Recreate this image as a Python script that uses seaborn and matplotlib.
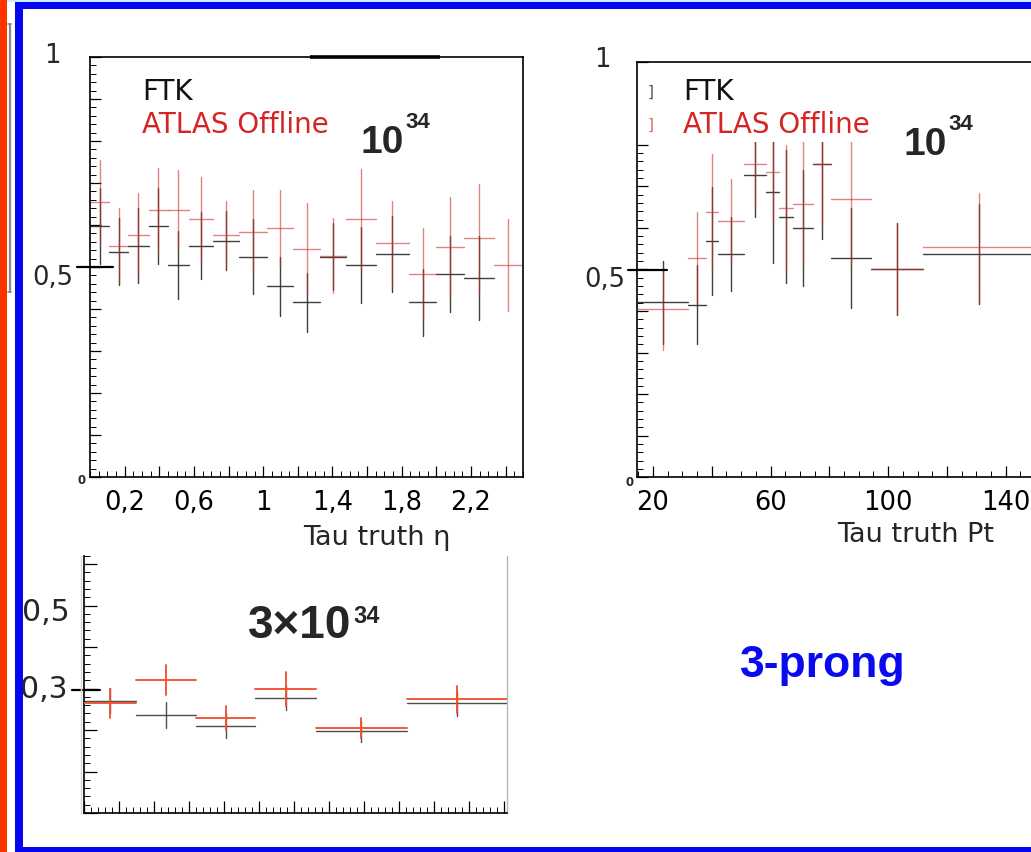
import numpy as np
import pandas as pd
import matplotlib
matplotlib.use("Agg")
import matplotlib.pyplot as plt
import seaborn as sns
from matplotlib.patches import Rectangle
from matplotlib.lines import Line2D
from matplotlib.ticker import FixedLocator, MultipleLocator, FixedFormatter, NullFormatter

# ---------------- data ----------------
# Panel 1: efficiency vs tau truth eta (10^34)
eta_edges = [0, 0.11, 0.22, 0.34, 0.45, 0.57, 0.71, 0.86, 1.02, 1.17, 1.33,
             1.48, 1.65, 1.84, 2.0, 2.16, 2.33, 2.5]
eta_offline = [0.655, 0.551, 0.577, 0.636, 0.636, 0.614, 0.577, 0.583, 0.593,
               0.543, 0.527, 0.614, 0.556, 0.483, 0.547, 0.568, 0.505]
eta_offline_err = [0.10, 0.09, 0.10, 0.10, 0.095, 0.10, 0.08, 0.10, 0.09,
                   0.11, 0.09, 0.12, 0.10, 0.11, 0.12, 0.13, 0.11]
eta_ftk = [0.597, 0.536, 0.551, 0.598, 0.505, 0.551, 0.563, 0.525, 0.454,
           0.416, 0.525, 0.505, 0.531, 0.416, 0.483, 0.474, np.nan]
eta_ftk_err = [0.09, 0.08, 0.09, 0.09, 0.08, 0.08, 0.07, 0.09, 0.07,
               0.07, 0.08, 0.09, 0.09, 0.08, 0.09, 0.10, np.nan]

# Panel 2: efficiency vs tau truth Pt (10^34)
pt_edges = [15, 32, 38, 42, 51, 58.5, 63, 67.5, 74.5, 80.5, 94, 112, 150]
pt_offline = [0.405, 0.527, 0.638, 0.617, 0.754, 0.734, 0.648, 0.658, 0.754,
              0.669, 0.501, 0.553]
pt_offline_err = [0.10, 0.11, 0.14, 0.10, 0.10, 0.12, 0.15, 0.15, 0.15,
                  0.16, 0.11, 0.13]
pt_ftk = [0.421, 0.415, 0.568, 0.537, 0.727, 0.686, 0.627, 0.600, 0.754,
          0.527, 0.501, 0.537]
pt_ftk_err = [0.10, 0.095, 0.13, 0.09, 0.10, 0.17, 0.16, 0.14, 0.18,
              0.12, 0.11, 0.12]

# Panel 3: 3x10^34
hi_edges = [0, 15, 32, 49, 66.3, 92.4, 121]
hi_offline = [0.264, 0.321, 0.229, 0.299, 0.205, 0.274]
hi_offline_err = [0.035, 0.036, 0.030, 0.040, 0.025, 0.033]
hi_ftk = [0.271, 0.236, 0.210, 0.277, 0.197, 0.264]
hi_ftk_err = [0.030, 0.031, 0.030, 0.030, 0.025, 0.030]

eta_ticks = [0.2, 0.4, 0.6, 0.8, 1.0, 1.2, 1.4, 1.6, 1.8, 2.0, 2.2, 2.4]
eta_labels = ["0,2", "", "0,6", "", "1", "", "1,4", "", "1,8", "", "2,2", ""]
pt_ticks = [20, 40, 60, 80, 100, 120, 140, 160]
pt_labels = ["20", "", "60", "", "100", "", "140", ""]

# ---------------- helpers ----------------
W, H = 1031, 853


def rect(l, t, r, b):
    return [l / W, 1 - b / H, (r - l) / W, (b - t) / H]


def cross_df(edges, vals, errs):
    rows = []
    for i, (v, e) in enumerate(zip(vals, errs)):
        if np.isnan(v):
            continue
        lo, hi = edges[i], edges[i + 1]
        c = 0.5 * (lo + hi)
        rows += [(lo, v, 2 * i), (hi, v, 2 * i),
                 (c, v - e, 2 * i + 1), (c, v + e, 2 * i + 1)]
    return pd.DataFrame(rows, columns=["x", "y", "seg"])


def draw_crosses(ax, edges, vals, errs, color, lw, alpha=1.0, z=2):
    df = cross_df(edges, vals, errs)
    sns.lineplot(data=df, x="x", y="y", units="seg", estimator=None, sort=False,
                 color=color, lw=lw, alpha=alpha, ax=ax, legend=False, zorder=z)
    ax.set_xlabel("")
    ax.set_ylabel("")


sns.set_style("white")
plt.rcParams["font.family"] = ["DejaVu Sans"]

fig = plt.figure(figsize=(W / 100, H / 100), dpi=100)
fig.patch.set_facecolor("white")


def ptext(x, y, s, **kw):
    fig.text(x / W, 1 - y / H, s, **kw)


def fline(xs, ys, **kw):
    fig.add_artist(Line2D([x / W for x in xs], [1 - y / H for y in ys],
                          transform=fig.transFigure, **kw))


RED12 = "#c8382c"
BLK12 = "#2a2a2a"

PT_LO, PT_HI = 14.4, 14.4 + 450 / 2.94

# ---------------- panel 1 ----------------
ax1 = fig.add_axes(rect(90, 58, 523, 478))
draw_crosses(ax1, eta_edges, eta_ftk, eta_ftk_err, BLK12, 1.0, 0.9)
draw_crosses(ax1, eta_edges, eta_offline, eta_offline_err, RED12, 1.0, 0.6, 3)

# ---------------- panel 2 ----------------
ax2 = fig.add_axes(rect(636.5, 62.5, 636.5 + 450, 478.3))
draw_crosses(ax2, pt_edges, pt_ftk, pt_ftk_err, BLK12, 1.0, 0.9)
draw_crosses(ax2, pt_edges, pt_offline, pt_offline_err, RED12, 1.0, 0.6, 3)
ax2.add_patch(Rectangle((0, 0.806), 0.545, 0.188, transform=ax2.transAxes,
                        fc="white", ec="none", zorder=4))

for ax, ticks, mnr, labels in [(ax1, eta_ticks, 0.05, eta_labels),
                               (ax2, pt_ticks, 5, pt_labels)]:
    for sp in ax.spines.values():
        sp.set_linewidth(1.2)
        sp.set_color("black")
        sp.set_zorder(6)
    ax.xaxis.set_major_locator(FixedLocator(ticks))
    ax.xaxis.set_major_formatter(FixedFormatter(labels))
    ax.xaxis.set_minor_locator(MultipleLocator(mnr))
    ax.yaxis.set_major_locator(MultipleLocator(0.1))
    ax.yaxis.set_minor_locator(MultipleLocator(0.02))
    ax.yaxis.set_major_formatter(NullFormatter())
    ax.tick_params(axis="both", which="both", direction="in", color="black",
                   bottom=True, left=True, top=False, right=False)
    ax.tick_params(axis="both", which="major", length=8, width=0.9)
    ax.tick_params(axis="both", which="minor", length=4, width=0.7)
    ax.tick_params(axis="x", labelsize=18.5, pad=8.5, colors="black")
    ax.set_ylim(0, 1)

ax1.set_xlim(0, 2.5)
ax2.set_xlim(PT_LO, PT_HI)
ax1.hlines(1.0, 0.508, 0.808, transform=ax1.transAxes, lw=2.6, color="black",
           clip_on=False, zorder=6)

# long 0.5 ticks
fline([77, 113], [268, 268], color="black", lw=1.6)
fline([628, 667], [270.5, 270.5], color="black", lw=1.6)

# y labels panels 1, 2
ptext(52, 63, "1", fontsize=18.5, ha="center", va="baseline")
ptext(73, 285, "0,5", fontsize=18.5, ha="right", va="baseline")
ptext(82, 484, "0", fontsize=8.5, ha="center", va="baseline", fontweight="bold")
ptext(602, 67, "1", fontsize=18.5, ha="center", va="baseline")
ptext(625, 287, "0,5", fontsize=18.5, ha="right", va="baseline")
ptext(630, 486, "0", fontsize=8.5, ha="center", va="baseline", fontweight="bold")

# axis titles
ptext(377, 545, "Tau truth \u03b7", fontsize=19.5, ha="center", va="baseline")
ptext(916, 542, "Tau truth Pt", fontsize=19.5, ha="center", va="baseline")

# legends
for x0 in (142, 683):
    ptext(x0, 100, "FTK", fontsize=20, ha="left", va="baseline", color="#111111",
          zorder=7)
    ptext(x0, 133, "ATLAS Offline", fontsize=20, ha="left", va="baseline",
          color="#d42424", zorder=7)
ptext(651, 97, "]", fontsize=11, ha="center", va="baseline", color="#555555")
ptext(651, 130, "]", fontsize=11, ha="center", va="baseline", color="#d07060")

# luminosity labels
ptext(360, 153, "10", fontsize=28, fontweight="bold", family="Liberation Sans",
      ha="left", va="baseline")
ptext(405, 128, "34", fontsize=16, fontweight="bold", family="Liberation Sans",
      ha="left", va="baseline")
ptext(904, 155, "10", fontsize=28, fontweight="bold", family="Liberation Sans",
      ha="left", va="baseline")
ptext(948, 130, "34", fontsize=16, fontweight="bold", family="Liberation Sans",
      ha="left", va="baseline")

# ---------------- panel 3 ----------------
ax3 = fig.add_axes(rect(84, 556.7, 507, 814))
draw_crosses(ax3, hi_edges, hi_ftk, hi_ftk_err, "#3a3a3a", 1.0, 0.9)
draw_crosses(ax3, hi_edges, hi_offline, hi_offline_err, "#f0502d", 1.4, 0.95, 3)
ax3.spines["top"].set_visible(False)
ax3.spines["right"].set_color("#b8b8b8")
ax3.spines["right"].set_linewidth(1.0)
for s in ("left", "bottom"):
    ax3.spines[s].set_color("black")
    ax3.spines[s].set_linewidth(1.2)
ax3.xaxis.set_major_locator(MultipleLocator(10))
ax3.xaxis.set_minor_locator(MultipleLocator(2))
ax3.yaxis.set_major_locator(MultipleLocator(0.1))
ax3.yaxis.set_minor_locator(MultipleLocator(0.02))
ax3.xaxis.set_major_formatter(NullFormatter())
ax3.yaxis.set_major_formatter(NullFormatter())
ax3.tick_params(axis="both", which="both", direction="in", color="black",
                bottom=True, left=True, top=False, right=False)
ax3.tick_params(axis="both", which="major", length=9, width=0.9)
ax3.tick_params(axis="both", which="minor", length=4.5, width=0.7)
ax3.set_xlim(0, 121)
ax3.set_ylim(0, 0.62)
fline([72, 100], [691, 691], color="black", lw=1.6)
fline([81, 81], [557, 815], color="#d8d8d8", lw=1.0)
ptext(70, 621, "0,5", fontsize=21.5, ha="right", va="baseline")
ptext(68, 698, "0,3", fontsize=21.5, ha="right", va="baseline")
ptext(248, 638, "3\u00d710", fontsize=33, fontweight="bold",
      family="Liberation Sans", ha="left", va="baseline")
ptext(353, 623, "34", fontsize=17, fontweight="bold", family="Liberation Sans",
      ha="left", va="baseline")

ptext(823, 677, "3-prong", fontsize=32, fontweight="bold",
      family="Liberation Sans", color="#0a0af0", ha="center", va="baseline")

# ---------------- slide frame ----------------
def frect(x0, y0, x1, y1, color):
    fig.add_artist(Rectangle((x0 / W, 1 - y1 / H), (x1 - x0) / W, (y1 - y0) / H,
                             transform=fig.transFigure, fc=color, ec="none",
                             zorder=10))


frect(0, 0, W, 3, "#cdeef8")
frect(0, 0, 7.3, H, "#ff3300")
frect(15, 3, 22.5, H, "#0505f0")
frect(15, 3, W, 10, "#0505f0")
frect(15, 848, W, H, "#0505f0")
fline([9.5, 9.5], [25, 293], color="#8a8a8a", lw=1.6)
fline([8, 11], [25, 25], color="#8a8a8a", lw=1.2)
fline([8, 11], [293, 293], color="#8a8a8a", lw=1.2)

fig.savefig("out.png", dpi=100)
